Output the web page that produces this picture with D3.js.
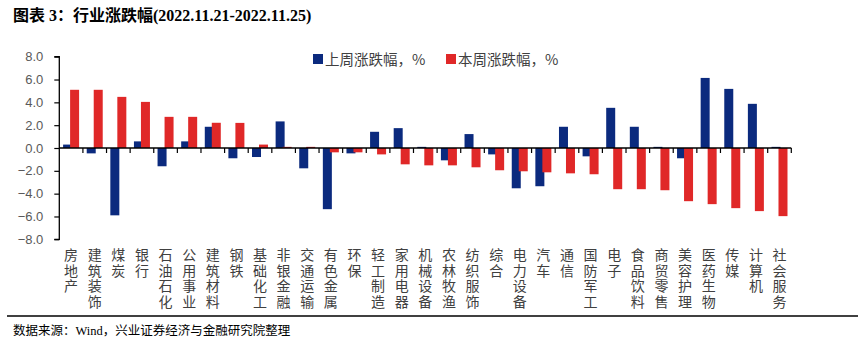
<!DOCTYPE html>
<html><head><meta charset="utf-8">
<script src="https://cdn.jsdelivr.net/npm/d3@7"></script>
<style>body{margin:0;background:#fff;}svg{display:block;}</style>
</head><body>
<svg id="c" width="865" height="346"></svg>
<script>
const categories = ["房地产","建筑装饰","煤炭","银行","石油石化","公用事业","建筑材料","钢铁","基础化工","非银金融","交通运输","有色金属","环保","轻工制造","家用电器","机械设备","农林牧渔","纺织服饰","综合","电力设备","汽车","通信","国防军工","电子","食品饮料","商贸零售","美容护理","医药生物","传媒","计算机","社会服务"];
const lastWeek = [0.3,-0.47,-5.9,0.58,-1.6,0.58,1.86,-0.9,-0.79,2.33,-1.78,-5.36,-0.47,1.42,1.74,0.1,-1.08,1.22,-0.56,-3.53,-3.35,1.86,-0.73,3.52,1.86,0.1,-0.9,6.14,5.18,3.87,0.1];
const thisWeek = [5.1,5.1,4.48,4.04,2.73,2.73,2.21,2.2,0.3,0.1,0.1,-0.38,-0.38,-0.56,-1.43,-1.52,-1.52,-1.69,-1.95,-2.04,-2.13,-2.22,-2.3,-3.61,-3.61,-3.7,-4.66,-4.92,-5.27,-5.53,-5.97];
const yTicks = [8,6,4,2,0,-2,-4,-6,-8];
const seriesNames = ["上周涨跌幅，%","本周涨跌幅，%"];
const colors = ["#0B2A7E","#E02828"];
const title = "图表 3：行业涨跌幅(2022.11.21-2022.11.25)";
const source = "数据来源：Wind，兴业证券经济与金融研究院整理";

const svg = d3.select("#c");
const x = d3.scaleBand().domain(categories).range([59.3, 791.3]).padding(0);
const y = d3.scaleLinear().domain([-8, 8]).range([239.3, 56.7]);

// title
svg.append("text").attr("x", 13).attr("y", 21)
  .attr("font-family", "'Liberation Serif','Noto Sans CJK SC'")
  .attr("font-weight", "bold").attr("font-size", 16).attr("fill", "#000")
  .text(title);

// y axis
const yAxis = d3.axisLeft(y).tickValues(yTicks).tickFormat(d3.format(".1f")).tickSize(5).tickPadding(11);
const gy = svg.append("g").attr("transform", "translate(59.3,0)").call(yAxis);
gy.select(".domain").attr("stroke", "#000").attr("stroke-width", 1.3).attr("d", `M-5,${y(8)}H0V${y(-8)}H-5`);
gy.selectAll(".tick line").attr("stroke", "#000").attr("stroke-width", 1.2);
gy.selectAll(".tick text").attr("font-family", "'Liberation Sans',Arial").attr("font-size", 13).attr("fill", "#595959");

// bars
const bw = 9;
svg.append("g").selectAll("rect").data(lastWeek).join("rect")
  .attr("x", (d, i) => x(categories[i]) + x.bandwidth() / 2 - 8)
  .attr("width", bw)
  .attr("y", d => y(Math.max(0, d)))
  .attr("height", d => Math.abs(y(d) - y(0)))
  .attr("fill", colors[0]);
svg.append("g").selectAll("rect").data(thisWeek).join("rect")
  .attr("x", (d, i) => x(categories[i]) + x.bandwidth() / 2 - 1)
  .attr("width", bw)
  .attr("y", d => y(Math.max(0, d)))
  .attr("height", d => Math.abs(y(d) - y(0)))
  .attr("fill", colors[1]);

// zero axis with ticks at boundaries
const xAxis = d3.axisBottom(x).tickSize(0).tickFormat("");
const gx = svg.append("g").attr("transform", `translate(0,${y(0)})`).call(xAxis);
gx.select(".domain").attr("stroke", "#000").attr("stroke-width", 1.5).attr("d", `M59.3,0H${x.range()[1]}`);
gx.selectAll(".tick").remove();
const bounds = categories.map(c => x(c) + x.bandwidth());
gx.selectAll("line.b").data(bounds).join("line").attr("class", "b")
  .attr("x1", d => d).attr("x2", d => d).attr("y1", 0).attr("y2", 5)
  .attr("stroke", "#000").attr("stroke-width", 1.2);

// category labels vertical (one text per category, stacked characters)
const lab = svg.append("g").attr("font-family", "'Noto Sans CJK SC'").attr("font-size", 14).attr("fill", "#404040");
lab.selectAll("text").data(categories).join("text")
  .attr("x", c => x(c) + x.bandwidth() / 2)
  .attr("y", 248)
  .style("writing-mode", "vertical-rl")
  .style("text-orientation", "upright")
  .attr("letter-spacing", 1.4)
  .text(c => c);

// legend
const leg = [[313, seriesNames[0], colors[0]], [446, seriesNames[1], colors[1]]];
leg.forEach(([lx, name, col]) => {
  svg.append("rect").attr("x", lx).attr("y", 54).attr("width", 10).attr("height", 10).attr("fill", col);
  svg.append("text").attr("x", lx + 12).attr("y", 64.5)
    .attr("font-family", "'Noto Sans CJK SC'").attr("font-size", 14.5).attr("fill", "#404040").text(name);
});

// separator and source
svg.append("line").attr("x1", 7).attr("x2", 858).attr("y1", 316).attr("y2", 316).attr("stroke", "#000").attr("stroke-width", 1.5);
svg.append("text").attr("x", 13).attr("y", 335)
  .attr("font-family", "'Liberation Serif','Noto Sans CJK SC'").attr("font-size", 12.5).attr("fill", "#000")
  .text(source);
</script>
</body></html>
